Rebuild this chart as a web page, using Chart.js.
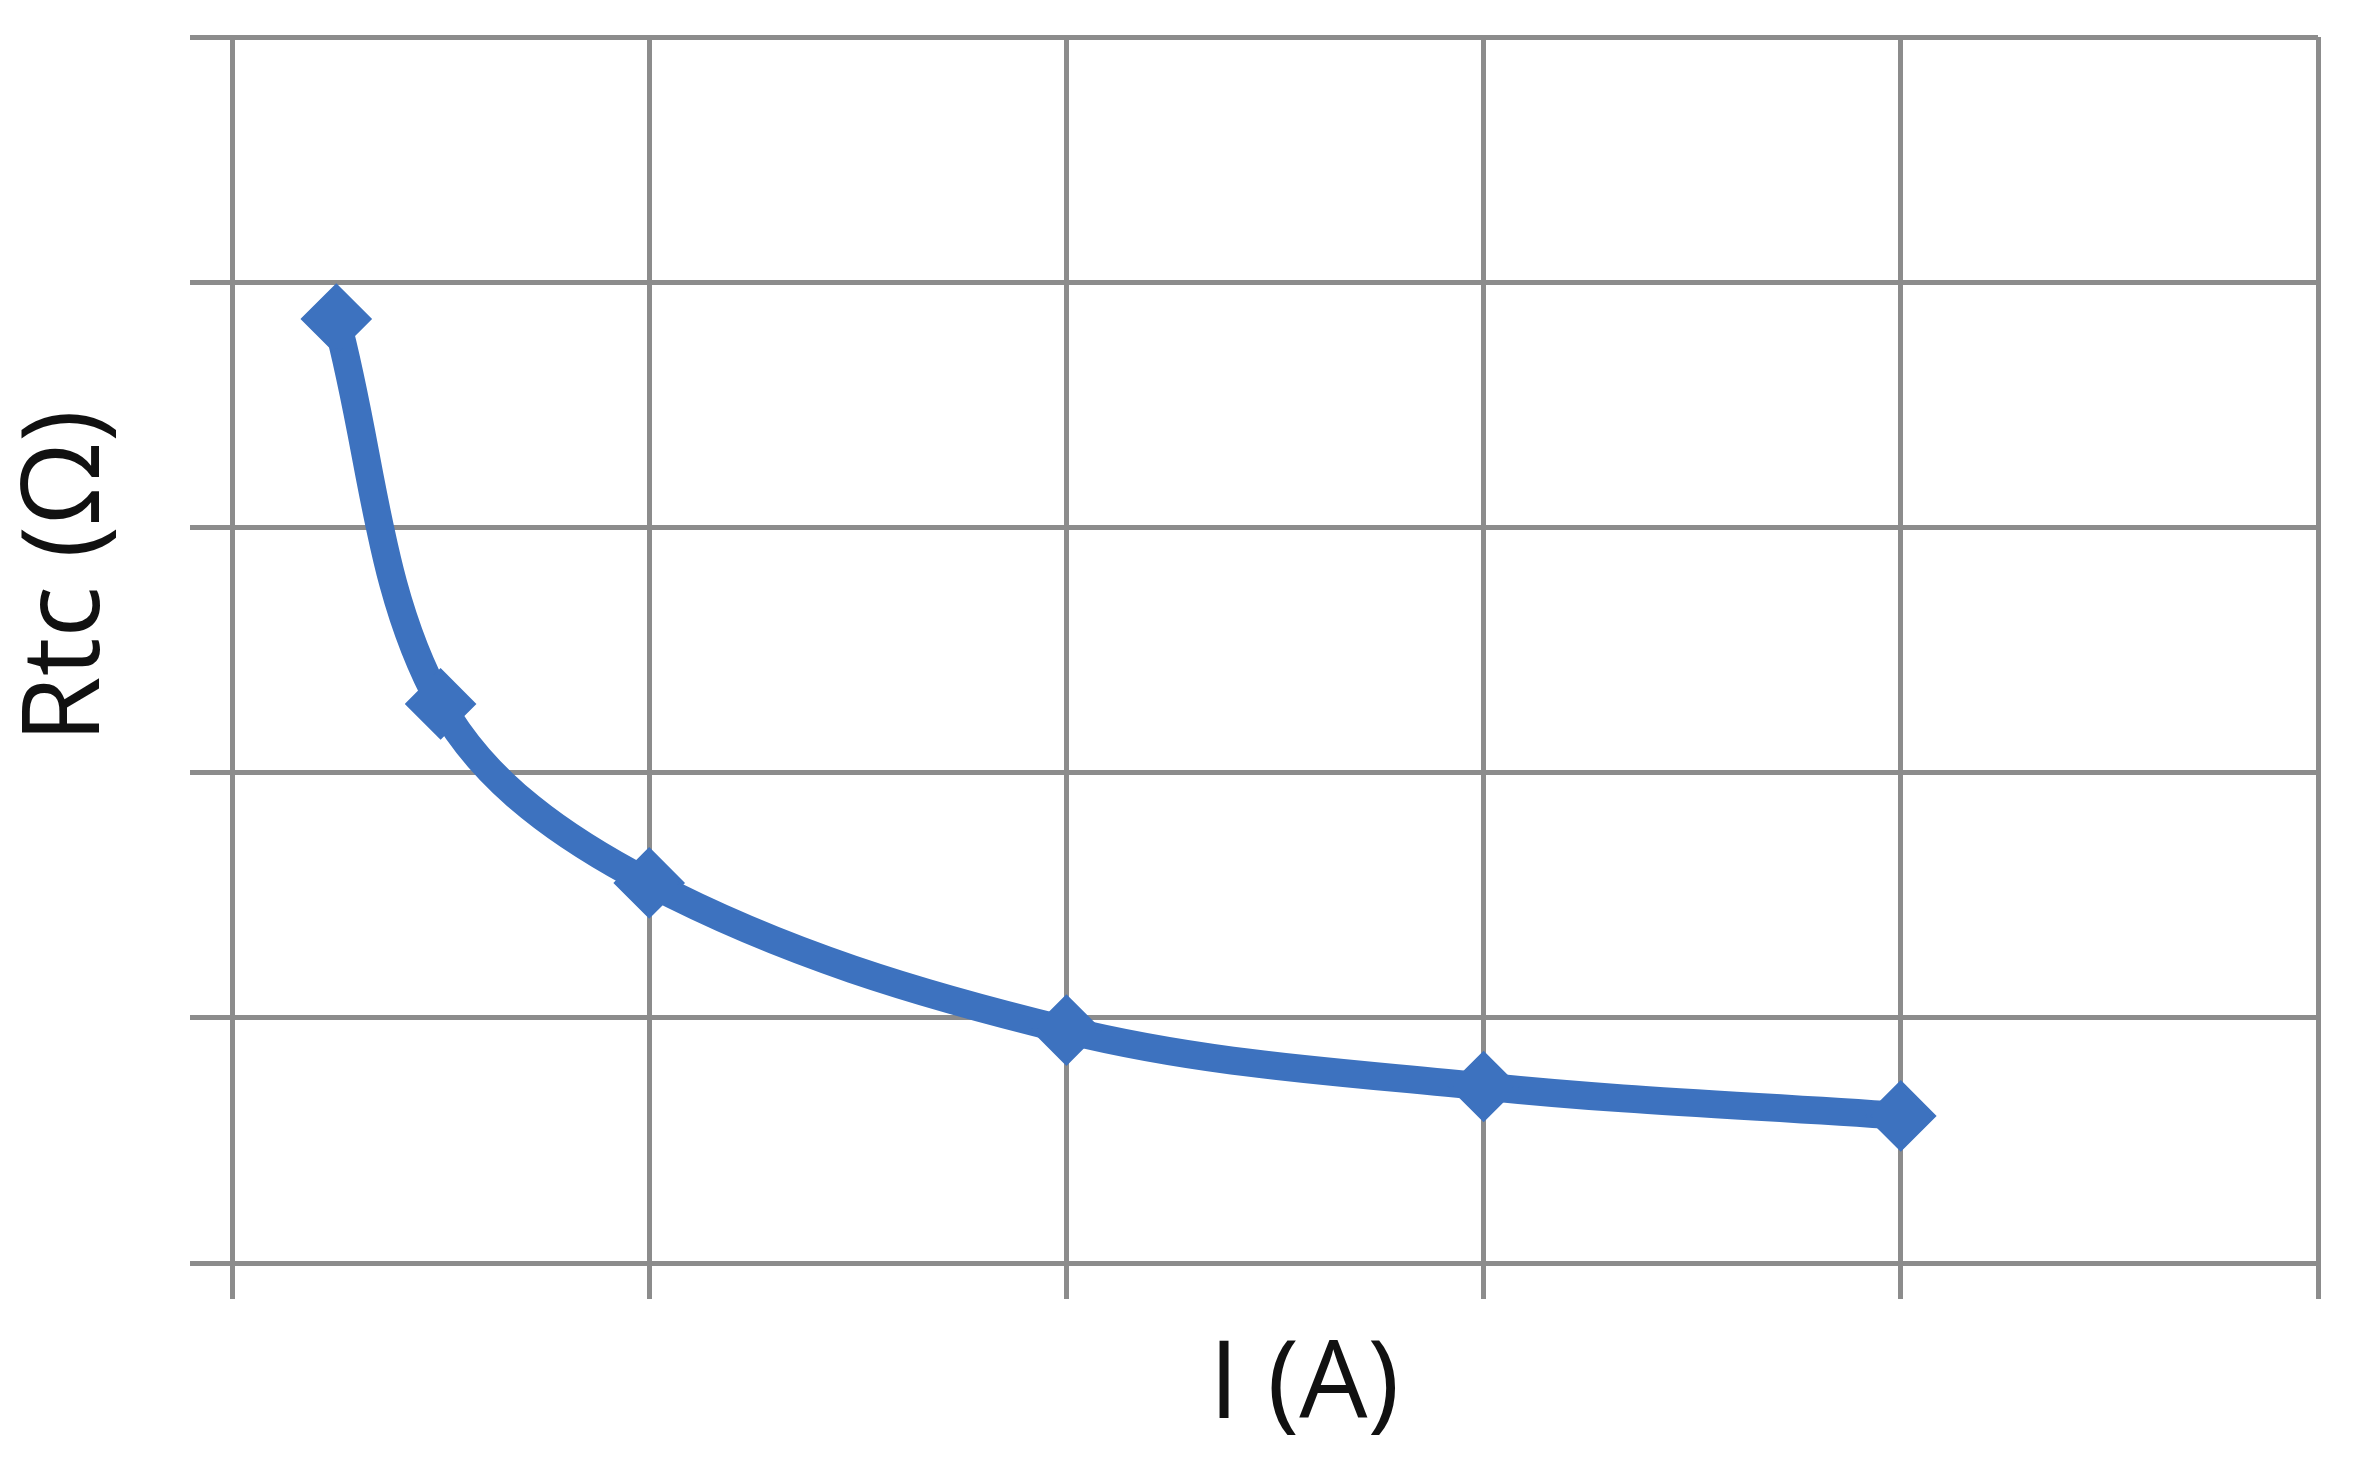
<!DOCTYPE html>
<html>
<head>
<meta charset="utf-8">
<script src="https://cdn.jsdelivr.net/npm/chart.js@4"></script>
<style>
  html, body { margin: 0; padding: 0; background: #fff; }
  #wrap { width: 2355px; height: 1465px; }
</style>
</head>
<body>
<div id="wrap"><canvas id="myChart"></canvas></div>
<script>
// valores (sin etiquetas de ejes en el original)
const corriente = [0.25, 0.5, 1, 2, 3, 4]
const resistencia = [3.85, 2.28, 1.55, 0.95, 0.72, 0.60]
const ejeX = { min: 0, max: 5, paso: 1 }
const ejeY = { min: 0, max: 5, paso: 1 }
const tituloX = 'I (A)'
const tituloY = 'Rtc (Ω)'

const azul = '#3d72bf'
const gris = '#8c8c8c'
const fuente = '108px "Open Sans", "Noto Sans", sans-serif'

const idMyChart = document.getElementById('myChart')

// los titulos del original no estan centrados, se dibujan aparte
const titulos = {
  id: 'titulos',
  afterDraw (chart) {
    const { ctx, scales } = chart
    ctx.save()
    ctx.font = fuente
    ctx.fillStyle = '#111'
    ctx.textAlign = 'center'
    ctx.textBaseline = 'middle'
    ctx.fillText(tituloX, scales.x.getPixelForValue(2.57), scales.x.bottom - 78)
    ctx.translate(scales.y.left + 68, scales.y.getPixelForValue(2.8))
    ctx.rotate(-Math.PI / 2)
    ctx.fillText(tituloY, 0, 0)
    ctx.restore()
  }
}

const data = {
  datasets: [
    {
      label: 'Rtc',
      data: corriente.map((x, i) => ({ x, y: resistencia[i] })),
      borderColor: azul,
      backgroundColor: azul,
      borderWidth: 28,
      tension: 0.35,
      pointStyle: 'rectRot',
      pointRadius: 33,
      pointBorderWidth: 4,
      pointBorderColor: azul,
      pointBackgroundColor: azul
    }
  ]
}

const config = {
  type: 'line',
  data,
  plugins: [titulos],
  options: {
    responsive: true,
    maintainAspectRatio: false,
    animation: false,
    layout: { padding: { top: 18, right: 22, left: 0, bottom: 0 } },
    plugins: {
      legend: { display: false },
      tooltip: { enabled: false }
    },
    scales: {
      x: {
        type: 'linear',
        min: ejeX.min,
        max: ejeX.max,
        ticks: { stepSize: ejeX.paso, display: false },
        grid: { color: gris, lineWidth: 5, tickLength: 36, drawTicks: true },
        border: { color: gris, width: 5 },
        afterFit: (s) => { s.height = 202 }
      },
      y: {
        type: 'linear',
        min: ejeY.min,
        max: ejeY.max,
        ticks: { stepSize: ejeY.paso, display: false },
        grid: { color: gris, lineWidth: 5, tickLength: 42, drawTicks: true },
        border: { color: gris, width: 5 },
        afterFit: (s) => { s.width = 232 }
      }
    }
  }
}

const chart = new Chart(idMyChart, config)
</script>
</body>
</html>
